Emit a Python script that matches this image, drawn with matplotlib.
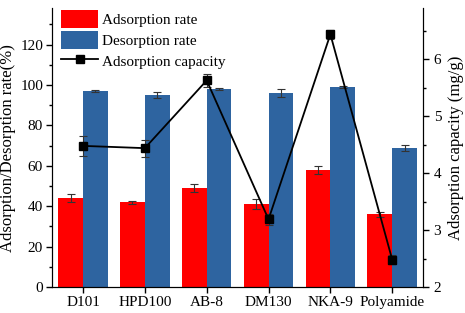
import matplotlib.pyplot as plt
import numpy as np
from matplotlib.ticker import MultipleLocator

plt.rcParams["font.family"] = ["Liberation Serif", "DejaVu Serif"]
plt.rcParams["font.size"] = 11

resins = ["D101", "HPD100", "AB-8", "DM130", "NKA-9", "Polyamide"]
adsorption_rate = [44, 42, 49, 41, 58, 36]
adsorption_err = [2.0, 0.8, 2.0, 2.5, 2.0, 1.2]
desorption_rate = [97, 95, 98, 96, 99, 69]
desorption_err = [0.5, 1.5, 0.5, 2.0, 0.5, 1.5]
capacity = [4.48, 4.44, 5.63, 3.19, 6.44, 2.48]
capacity_err = [0.18, 0.15, 0.12, 0.10, 0.08, 0.08]

fig = plt.figure(figsize=(4.65, 3.13), dpi=100)
ax = fig.add_axes([0.112, 0.083, 0.798, 0.891])
x = np.arange(len(resins))
width = 0.4
err_style = dict(ecolor="#333333", elinewidth=0.8, capsize=3, capthick=0.8)

ax.bar(x - width / 2, adsorption_rate, width, color="#ff0000",
       yerr=adsorption_err, error_kw=err_style, label="Adsorption rate")
ax.bar(x + width / 2, desorption_rate, width, color="#2e64a0",
       yerr=desorption_err, error_kw=err_style, label="Desorption rate")
ax.set_xlim(-0.5, 5.5)
ax.set_ylim(0, 138)
ax.set_xticks(x)
ax.set_xticklabels(resins)
ax.yaxis.set_major_locator(MultipleLocator(20))
ax.yaxis.set_minor_locator(MultipleLocator(10))
ax.set_ylabel("Adsorption/Desorption rate(%)", fontsize=12, labelpad=3)
ax.spines["top"].set_visible(False)
ax.tick_params(direction="out", length=4.5, width=1, pad=2)
ax.tick_params(which="minor", direction="out", length=2.5, width=1)

ax2 = ax.twinx()
ax2.errorbar(x, capacity, yerr=capacity_err, fmt="none", **err_style)
ax2.plot(x, capacity, color="black", marker="s", markersize=6, linewidth=1.3,
         label="Adsorption capacity")
ax2.set_ylim(2, 6.9)
ax2.yaxis.set_major_locator(MultipleLocator(1))
ax2.yaxis.set_minor_locator(MultipleLocator(0.5))
ax2.set_ylabel("Adsorption capacity (mg/g)", fontsize=12, labelpad=5)
ax2.spines["top"].set_visible(False)
ax2.tick_params(direction="out", length=4.5, width=1, pad=3)
ax2.tick_params(which="minor", direction="out", length=2.5, width=1)

h1, l1 = ax.get_legend_handles_labels()
h2, l2 = ax2.get_legend_handles_labels()
ax.legend(h1 + h2, l1 + l2, loc="upper left", bbox_to_anchor=(0.0, 1.025), frameon=False,
          fontsize=11, handlelength=2.4, handleheight=1.4, labelspacing=0.2,
          borderaxespad=0.3, handletextpad=0.25, borderpad=0.3)

fig.savefig("out.png", dpi=100)
